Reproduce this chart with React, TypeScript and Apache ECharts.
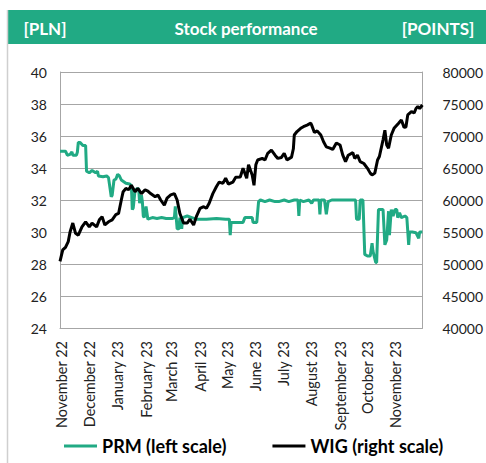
import React, { useEffect, useRef } from "react";
import * as echarts from "echarts";

const monthNames = ["January", "February", "March", "April", "May", "June", "July", "August", "September", "October", "November", "December"];

const startDate = "2022-10-30";
const endDate = "2023-11-30";

const prmDates = [
  "2022-10-30", "2022-11-05", "2022-11-07", "2022-11-10", "2022-11-12", "2022-11-13", "2022-11-17", "2022-11-18", "2022-11-19", "2022-11-21",
  "2022-11-24", "2022-11-27", "2022-11-28", "2022-12-01", "2022-12-04", "2022-12-08", "2022-12-10", "2022-12-11", "2022-12-16", "2022-12-20",
  "2022-12-22", "2022-12-25", "2022-12-26", "2022-12-28", "2022-12-30", "2023-01-01", "2023-01-03", "2023-01-05", "2023-01-10", "2023-01-14",
  "2023-01-16", "2023-01-17", "2023-01-18", "2023-01-20", "2023-01-22", "2023-01-24", "2023-01-25", "2023-01-27", "2023-01-28", "2023-01-29",
  "2023-01-30", "2023-02-01", "2023-02-02", "2023-02-03", "2023-02-08", "2023-02-13", "2023-02-18", "2023-02-23", "2023-03-02", "2023-03-04",
  "2023-03-05", "2023-03-07", "2023-03-09", "2023-03-10", "2023-03-12", "2023-03-13", "2023-03-18", "2023-03-23", "2023-03-28", "2023-04-08",
  "2023-04-19", "2023-04-29", "2023-05-03", "2023-05-04", "2023-05-05", "2023-05-10", "2023-05-18", "2023-05-20", "2023-05-28", "2023-05-29",
  "2023-06-02", "2023-06-04", "2023-06-06", "2023-06-11", "2023-06-16", "2023-06-22", "2023-06-26", "2023-07-02", "2023-07-07", "2023-07-13",
  "2023-07-17", "2023-07-18", "2023-07-19", "2023-07-23", "2023-07-29", "2023-08-01", "2023-08-03", "2023-08-09", "2023-08-10", "2023-08-11",
  "2023-08-15", "2023-08-17", "2023-08-19", "2023-08-23", "2023-09-03", "2023-09-18", "2023-09-19", "2023-09-22", "2023-09-23", "2023-09-26",
  "2023-09-28", "2023-10-01", "2023-10-04", "2023-10-06", "2023-10-07", "2023-10-10", "2023-10-11", "2023-10-13", "2023-10-16", "2023-10-18",
  "2023-10-20", "2023-10-22", "2023-10-24", "2023-10-25", "2023-10-27", "2023-10-29", "2023-10-31", "2023-11-02", "2023-11-03", "2023-11-05",
  "2023-11-07", "2023-11-11", "2023-11-13", "2023-11-15", "2023-11-16", "2023-11-19", "2023-11-23", "2023-11-26", "2023-11-27", "2023-11-30",
];
const prmValues = [
  35.05, 35.05, 34.8, 34.85, 35.0, 34.8, 34.8, 35.0, 35.6, 35.6,
  35.4, 35.4, 33.8, 33.7, 33.85, 33.7, 33.8, 33.5, 33.45, 33.5,
  33.4, 32.2, 32.3, 33.25, 33.3, 33.6, 33.5, 33.25, 33.05, 33.0,
  32.9, 31.4, 31.5, 32.6, 32.7, 32.7, 31.8, 32.3, 31.9, 31.0,
  30.9, 31.6, 31.2, 30.8, 30.9, 30.85, 30.9, 30.85, 30.85, 30.9,
  31.6, 30.2, 30.2, 30.9, 30.2, 30.9, 31.0, 30.9, 30.8, 30.8,
  30.85, 30.8, 30.8, 29.8, 30.6, 30.6, 30.6, 30.9, 30.9, 30.6,
  30.6, 31.9, 32.0, 31.9, 32.0, 31.9, 31.9, 32.0, 31.9, 32.0,
  32.0, 31.0, 32.0, 31.9, 32.0, 31.8, 32.0, 32.0, 31.1, 32.0,
  32.0, 31.1, 31.9, 32.0, 32.0, 32.0, 30.8, 30.8, 32.0, 32.0,
  28.6, 28.5, 28.5, 29.3, 28.8, 28.1, 28.1, 31.4, 31.4, 31.4,
  29.2, 29.5, 31.3, 29.8, 31.4, 31.0, 31.4, 31.4, 30.9, 31.2,
  30.9, 31.0, 30.9, 29.2, 30.0, 30.0, 29.95, 29.6, 30.0, 30.0,
];

const wigDates = [
  "2022-10-30", "2022-11-02", "2022-11-05", "2022-11-08", "2022-11-10", "2022-11-13", "2022-11-16", "2022-11-19", "2022-11-23", "2022-11-27", "2022-12-01",
  "2022-12-04", "2022-12-09", "2022-12-12", "2022-12-15", "2022-12-18", "2022-12-22", "2022-12-26", "2022-12-30", "2023-01-02", "2023-01-05",
  "2023-01-07", "2023-01-10", "2023-01-13", "2023-01-16", "2023-01-20", "2023-01-23", "2023-01-27", "2023-01-31", "2023-02-03", "2023-02-06",
  "2023-02-11", "2023-02-14", "2023-02-17", "2023-02-21", "2023-02-24", "2023-02-28", "2023-03-04", "2023-03-07", "2023-03-10", "2023-03-14",
  "2023-03-18", "2023-03-21", "2023-03-25", "2023-03-28", "2023-04-01", "2023-04-05", "2023-04-08", "2023-04-11", "2023-04-15", "2023-04-19",
  "2023-04-22", "2023-04-26", "2023-04-29", "2023-05-02", "2023-05-07", "2023-05-10", "2023-05-15", "2023-05-18", "2023-05-22", "2023-05-24",
  "2023-05-28", "2023-05-30", "2023-06-01", "2023-06-03", "2023-06-08", "2023-06-11", "2023-06-14", "2023-06-18", "2023-06-22", "2023-06-25",
  "2023-06-29", "2023-07-02", "2023-07-05", "2023-07-10", "2023-07-12", "2023-07-13", "2023-07-16", "2023-07-20", "2023-07-23", "2023-07-27",
  "2023-07-31", "2023-08-01", "2023-08-04", "2023-08-07", "2023-08-11", "2023-08-14", "2023-08-17", "2023-08-21", "2023-08-24", "2023-08-28",
  "2023-09-01", "2023-09-04", "2023-09-07", "2023-09-10", "2023-09-15", "2023-09-17", "2023-09-20", "2023-09-23", "2023-09-27", "2023-10-01",
  "2023-10-04", "2023-10-06", "2023-10-09", "2023-10-12", "2023-10-14", "2023-10-18", "2023-10-20", "2023-10-22", "2023-10-24", "2023-10-27",
  "2023-10-30", "2023-11-04", "2023-11-07", "2023-11-10", "2023-11-12", "2023-11-14", "2023-11-18", "2023-11-21", "2023-11-23", "2023-11-25",
  "2023-11-27", "2023-11-30",
];
const wigValues = [
  50400, 52200, 52600, 53500, 55000, 56400, 54800, 54500, 55800, 56600, 55800,
  56400, 55800, 56900, 57400, 56100, 56600, 56900, 57700, 57900, 60000,
  61300, 61800, 61600, 62300, 61300, 61800, 61000, 61600, 61400, 61000,
  60500, 60800, 60000, 59200, 60300, 60800, 61000, 60000, 57900, 56400,
  56400, 57000, 56100, 57400, 58700, 58950, 58700, 59500, 61000, 62100,
  62800, 62600, 63400, 62500, 62800, 63550, 63600, 64950, 63400, 65500,
  63900, 62300, 65500, 66250, 66500, 66250, 67300, 67800, 67000, 66500,
  66650, 67300, 66250, 66700, 68000, 70150, 70700, 71200, 71450, 71700,
  72000, 71700, 70550, 70800, 70150, 69100, 68300, 68100, 67900, 68900,
  68600, 67000, 66000, 67000, 67400, 66500, 67000, 66000, 65700, 64950,
  64200, 63900, 64200, 66250, 66800, 69400, 70900, 68600, 68100, 70150,
  71200, 72000, 72500, 71350, 71400, 73300, 73800, 73600, 74300, 74600,
  74300, 74850,
];

const leftMin = 24, leftMax = 40, leftStep = 2;
const rightMin = 40000, rightMax = 80000, rightStep = 5000;

const GREEN = "#21AA84";
const FONT = "Lato, 'Open Sans', sans-serif";

function buildDays(a: string, b: string): string[] {
  const out: string[] = [];
  const [ay, am, ad] = a.split("-").map(Number);
  const [by, bm, bd] = b.split("-").map(Number);
  let t = Date.UTC(ay, am - 1, ad);
  const end = Date.UTC(by, bm - 1, bd);
  while (t <= end) {
    const d = new Date(t);
    const s = d.getUTCFullYear() + "-" + String(d.getUTCMonth() + 1).padStart(2, "0") + "-" + String(d.getUTCDate()).padStart(2, "0");
    out.push(s);
    t += 86400000;
  }
  return out;
}

export default function App() {
  const ref = useRef<HTMLDivElement>(null);
  useEffect(() => {
    if (!ref.current) return;
    const chart = echarts.init(ref.current, undefined, { renderer: "svg" });
    const days = buildDays(startDate, endDate);
    const prm = prmDates.map((d, i) => [d, prmValues[i]]);
    const wig = wigDates.map((d, i) => [d, wigValues[i]]);
    chart.setOption({
      animation: false,
      backgroundColor: "#ffffff",
      grid: { left: 60, right: 53, top: 72, bottom: 135, containLabel: false },
      graphic: [
        { type: "line", z: 100, shape: { x1: 7.5, y1: 10, x2: 7.5, y2: 463 }, style: { stroke: "#CFCFCF", lineWidth: 1.5 } },
        { type: "rect", shape: { x: 7, y: 10, width: 479, height: 34 }, style: { fill: GREEN } },
        { type: "text", x: 45, y: 28, style: { text: "[PLN]", fill: "#fff", font: "bold 17px " + FONT, textAlign: "center", textVerticalAlign: "middle" } },
        { type: "text", x: 246, y: 28, style: { text: "Stock performance", fill: "#fff", font: "bold 17px " + FONT, textAlign: "center", textVerticalAlign: "middle" } },
        { type: "text", x: 438, y: 28, style: { text: "[POINTS]", fill: "#fff", font: "bold 17px " + FONT, textAlign: "center", textVerticalAlign: "middle" } },
      ],
      legend: {
        left: 59,
        top: 432,
        itemGap: 46,
        itemWidth: 33,
        itemHeight: 3,
        icon: "rect",
        textStyle: { fontFamily: FONT, fontWeight: "bold", fontSize: 18, color: "#000" },
        data: ["PRM (left scale)", "WIG (right scale)"],
      },
      xAxis: {
        type: "category",
        data: days,
        boundaryGap: false,
        axisLine: { show: true, lineStyle: { color: "#A6A6A6", width: 1 } },
        axisTick: { show: false },
        splitLine: { show: false },
        axisLabel: {
          rotate: 90,
          margin: 13,
          interval: (idx: number, val: string) => val.endsWith("-01"),
          formatter: (val: string) => {
            const [y, m] = val.split("-");
            return monthNames[Number(m) - 1] + " " + y.slice(2);
          },
          fontFamily: FONT,
          fontSize: 14.5,
          color: "#222",
        },
      },
      yAxis: [
        {
          type: "value",
          min: leftMin,
          max: leftMax,
          interval: leftStep,
          position: "left",
          axisLine: { show: true, lineStyle: { color: "#A6A6A6" } },
          axisTick: { show: false },
          splitLine: { show: true, lineStyle: { color: "#A6A6A6", width: 1 } },
          axisLabel: { margin: 13, fontFamily: FONT, fontSize: 14, color: "#222" },
        },
        {
          type: "value",
          min: rightMin,
          max: rightMax,
          interval: rightStep,
          position: "right",
          axisLine: { show: true, lineStyle: { color: "#A6A6A6" } },
          axisTick: { show: false },
          splitLine: { show: false },
          axisLabel: { margin: 20, fontFamily: FONT, fontSize: 14, color: "#222", formatter: (v: number) => String(v) },
        },
      ],
      series: [
        {
          name: "PRM (left scale)",
          type: "line",
          yAxisIndex: 0,
          data: prm,
          showSymbol: false,
          symbol: "none",
          lineStyle: { color: GREEN, width: 3 },
          itemStyle: { color: GREEN },
        },
        {
          name: "WIG (right scale)",
          type: "line",
          yAxisIndex: 1,
          data: wig,
          showSymbol: false,
          symbol: "none",
          lineStyle: { color: "#000", width: 3 },
          itemStyle: { color: "#000" },
        },
      ],
    });
    return () => chart.dispose();
  }, []);
  return <div ref={ref} style={{ position: "absolute", left: 0, top: 0, width: 486, height: 463 }} />;
}
